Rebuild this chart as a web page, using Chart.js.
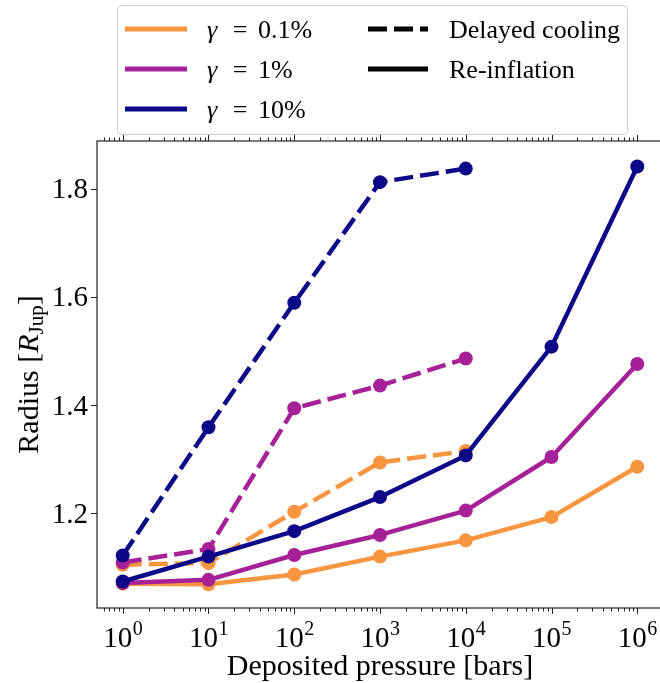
<!DOCTYPE html>
<html>
<head>
<meta charset="utf-8">
<script src="https://cdn.jsdelivr.net/npm/chart.js@4.4.1/dist/chart.umd.min.js"></script>
<style>
  html, body { margin: 0; padding: 0; background: #fff; overflow: hidden; }
</style>
</head>
<body>
<canvas id="radius-chart" width="680" height="683"></canvas>
<script>
// Deposited pressure in bars
const pressures = [1, 10, 100, 1e3, 1e4, 1e5, 1e6];

// Delayed cooling runs (only go up to 1e4 bars)
const delayedLow = [1.105, 1.108, 1.203, 1.294, 1.315];
const delayedMid = [1.109, 1.134, 1.394, 1.436, 1.486];
const delayedHigh = [1.122, 1.359, 1.589, 1.812, 1.837];

// Re-inflation runs
const reinflLow = [1.070, 1.069, 1.087, 1.120, 1.150, 1.193, 1.286];
const reinflMid = [1.071, 1.077, 1.123, 1.160, 1.205, 1.304, 1.476];
const reinflHigh = [1.074, 1.120, 1.167, 1.230, 1.307, 1.508, 1.841];

const gammaLabels = ['0.1%', '1%', '10%'];
const styleLabels = ['Delayed cooling', 'Re-inflation'];
const xTickExponents = [0, 1, 2, 3, 4, 5, 6];
const yTicks = [1.2, 1.4, 1.6, 1.8];

const colors = ['#f89540', '#a62098', '#0d0887'];
const DASH = [19, 7];
const FONT = '"Liberation Serif", "Times New Roman", serif';

function toPoints(values) {
  return values.map((v, i) => ({ x: pressures[i], y: v }));
}

function makeSet(values, color, dashed) {
  return {
    data: toPoints(values),
    borderColor: color,
    backgroundColor: color,
    borderWidth: 4.5,
    borderDash: dashed ? DASH : [],
    borderJoinStyle: 'round',
    borderCapStyle: dashed ? 'butt' : 'round',
    pointRadius: 7,
    pointBorderWidth: 0,
    pointBackgroundColor: color,
    tension: 0,
    fill: false
  };
}

// first dataset ends up on top, so blue goes first
const datasets = [
  makeSet(reinflHigh, colors[2], false),
  makeSet(delayedHigh, colors[2], true),
  makeSet(reinflMid, colors[1], false),
  makeSet(delayedMid, colors[1], true),
  makeSet(reinflLow, colors[0], false),
  makeSet(delayedLow, colors[0], true)
];

// frame, mirrored ticks, tick labels and axis titles
const axesDecor = {
  id: 'axesDecor',
  afterDatasetsDraw(chart) {
    const ctx = chart.ctx;
    const a = chart.chartArea;
    const xs = chart.scales.x;
    const ys = chart.scales.y;
    ctx.save();
    ctx.strokeStyle = '#222';
    ctx.lineWidth = 1.2;
    ctx.strokeRect(a.left, a.top, a.right - a.left, a.bottom - a.top);

    ctx.lineWidth = 1;
    ctx.beginPath();
    // x major + minor ticks, bottom and top
    for (let e = -1; e <= 6; e++) {
      for (let k = 1; k <= 9; k++) {
        const v = k * Math.pow(10, e);
        if (v < xs.min || v > xs.max) continue;
        const px = Math.round(xs.getPixelForValue(v)) + 0.5;
        const len = k === 1 ? 6 : 3.5;
        ctx.moveTo(px, a.bottom); ctx.lineTo(px, a.bottom + len);
        ctx.moveTo(px, a.top); ctx.lineTo(px, a.top - len);
      }
    }
    yTicks.forEach(t => {
      const py = Math.round(ys.getPixelForValue(t)) + 0.5;
      ctx.moveTo(a.left, py); ctx.lineTo(a.left - 6, py);
      ctx.moveTo(a.right, py); ctx.lineTo(a.right + 6, py);
    });
    ctx.stroke();

    ctx.fillStyle = '#000';
    ctx.textBaseline = 'alphabetic';
    // x tick labels 10^n
    xTickExponents.forEach(e => {
      const px = xs.getPixelForValue(Math.pow(10, e));
      ctx.font = '29px ' + FONT;
      const wBase = ctx.measureText('10').width;
      ctx.font = '20px ' + FONT;
      const wSup = ctx.measureText(String(e)).width;
      const x0 = px - (wBase + wSup) / 2;
      ctx.textAlign = 'left';
      ctx.font = '29px ' + FONT;
      ctx.fillText('10', x0, 647);
      ctx.font = '20px ' + FONT;
      ctx.fillText(String(e), x0 + wBase + 0.5, 635);
    });

    // y tick labels
    ctx.font = '29px ' + FONT;
    ctx.textAlign = 'right';
    yTicks.forEach(t => {
      const py = ys.getPixelForValue(t);
      ctx.fillText(t.toFixed(1), a.left - 9, py + 9.5);
    });

    // x title
    ctx.font = '30px ' + FONT;
    ctx.textAlign = 'center';
    ctx.fillText('Deposited pressure [bars]', (a.left + a.right) / 2, 675);

    // y title: Radius [R_Jup]
    ctx.translate(38, (a.top + a.bottom) / 2);
    ctx.rotate(-Math.PI / 2);
    ctx.textAlign = 'left';
    const parts = [
      { t: 'Radius [', f: '30px ' + FONT, dy: 0 },
      { t: 'R', f: 'italic 30px ' + FONT, dy: 0 },
      { t: 'Jup', f: '21px ' + FONT, dy: 5 },
      { t: ']', f: '30px ' + FONT, dy: 0 }
    ];
    let total = 0;
    parts.forEach(p => { ctx.font = p.f; p.w = ctx.measureText(p.t).width; total += p.w; });
    let cx = -total / 2;
    parts.forEach(p => { ctx.font = p.f; ctx.fillText(p.t, cx, p.dy); cx += p.w; });
    ctx.restore();
  }
};

// two-column legend box above the axes
const legendBox = {
  id: 'legendBox',
  afterDraw(chart) {
    const ctx = chart.ctx;
    ctx.save();
    ctx.fillStyle = 'rgba(255,255,255,0.8)';
    ctx.strokeStyle = '#cccccc';
    ctx.lineWidth = 1;
    ctx.beginPath();
    ctx.roundRect(117.5, 5.5, 510, 129, 4);
    ctx.fill();
    ctx.stroke();

    const rows = [29, 69, 109];
    ctx.lineWidth = 5;
    ctx.textBaseline = 'alphabetic';
    gammaLabels.forEach((lab, i) => {
      const base = rows[i] + 8.5;
      ctx.strokeStyle = colors[i];
      ctx.setLineDash([]);
      ctx.lineCap = 'butt';
      ctx.beginPath();
      ctx.moveTo(125, rows[i]); ctx.lineTo(187, rows[i]);
      ctx.stroke();
      ctx.fillStyle = '#000';
      ctx.textAlign = 'left';
      ctx.font = 'italic 26px ' + FONT;
      ctx.fillText('γ', 207, base);
      ctx.font = '26px ' + FONT;
      ctx.textAlign = 'center';
      ctx.fillText('=', 240, base);
      ctx.textAlign = 'left';
      ctx.fillText(lab, 258, base);
    });
    styleLabels.forEach((lab, i) => {
      ctx.strokeStyle = '#000';
      ctx.setLineDash(i === 0 ? DASH : []);
      ctx.beginPath();
      ctx.moveTo(368, rows[i]); ctx.lineTo(428, rows[i]);
      ctx.stroke();
      ctx.fillStyle = '#000';
      ctx.textAlign = 'left';
      ctx.font = '26px ' + FONT;
      ctx.fillText(lab, 449, rows[i] + 8.5);
    });
    ctx.restore();
  }
};

const ctx = document.getElementById('radius-chart').getContext('2d');
new Chart(ctx, {
  type: 'line',
  data: { datasets },
  options: {
    responsive: false,
    animation: false,
    devicePixelRatio: 1,
    layout: { padding: { top: 141, right: 17, bottom: 0, left: 0 } },
    plugins: {
      legend: { display: false },
      tooltip: { enabled: false }
    },
    scales: {
      x: {
        type: 'logarithmic',
        min: Math.pow(10, -0.3),
        max: Math.pow(10, 6.3),
        ticks: { display: false },
        grid: { display: false },
        border: { display: false },
        afterFit: s => { s.height = 75; }
      },
      y: {
        type: 'linear',
        min: 1.025,
        max: 1.888,
        ticks: { display: false },
        grid: { display: false },
        border: { display: false },
        afterFit: s => { s.width = 97; }
      }
    }
  },
  plugins: [axesDecor, legendBox]
});
</script>
</body>
</html>
